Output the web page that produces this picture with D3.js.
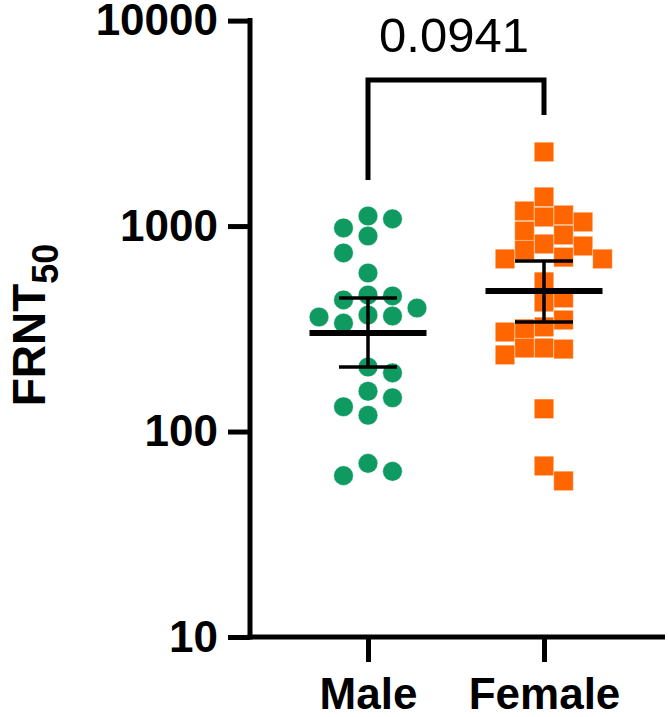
<!DOCTYPE html>
<html>
<head>
<meta charset="utf-8">
<script src="https://cdn.jsdelivr.net/npm/d3@7"></script>
<style>
  html, body { margin: 0; padding: 0; background: #fff; }
  svg { display: block; }
  text { font-family: Arial, 'Liberation Sans', sans-serif; fill: #000; }
</style>
</head>
<body>
<div id="chart"></div>
<script>
// groups on the x axis
const groups = ['Male', 'Female'];

// FRNT50 per subject
const maleValues = [1119, 1084, 979, 895, 740, 591, 462, 457, 437, 399, 369, 365, 361, 337,
  206, 193, 157, 146, 132, 120, 70, 64, 61];
const femaleValues = [2295, 1386, 1184, 1132, 1107, 1047, 946, 905, 818, 800, 764, 706, 692, 692,
  535, 447, 427, 349, 323, 316, 305, 255, 255, 252, 236, 129, 68, 57.5];

// centre line and error bar ends
const centreValues = [302, 483];
const upperValues = [447, 676];
const lowerValues = [206, 341];

const yTicks = [10, 100, 1000, 10000];
const pValueLabel = '0.0941';

const width = 668;
const height = 717;
const margin = { top: 20.6, right: 3, bottom: 80, left: 250 };

const svg = d3.select('#chart')
  .append('svg')
  .attr('width', width)
  .attr('height', height);

const y = d3.scaleLog()
  .domain([10, 10000])
  .range([height - margin.bottom, margin.top]);

const x = d3.scalePoint()
  .domain(groups)
  .range([368, 544]);

const colors = { Male: '#0f9a62', Female: '#ff6600' };

// simple beeswarm: nearest free lane to the group centre, sides alternate
function swarm(values, lanes, step, collides) {
  const placed = [];
  const sorted = values.map((v) => ({ v, y: y(v) })).sort((a, b) => a.y - b.y);
  sorted.forEach((p, i) => {
    for (const k of lanes) {
      const cands = k === 0 ? [0] : (i % 2 ? [k * step, -k * step] : [-k * step, k * step]);
      const hit = cands.find((dx) => !placed.some((q) => collides(dx - q.dx, p.y - q.y)));
      if (hit !== undefined) {
        p.dx = hit;
        break;
      }
    }
    placed.push(p);
  });
  return placed;
}

const r = 9.8;
const side = 19.5;
const malePts = swarm(maleValues, d3.range(0, 8), 24.5,
  (dx, dy) => Math.hypot(dx, dy) < 2 * r - 0.5);
const femalePts = swarm(femaleValues, d3.range(0, 8, 0.5), side,
  (dx, dy) => Math.abs(dx) < side - 0.5 && Math.abs(dy) < side - 0.5);

// y axis
const yAxis = svg.append('g')
  .attr('transform', `translate(${margin.left},0)`)
  .call(d3.axisLeft(y)
    .tickValues(yTicks)
    .tickFormat(d3.format('d'))
    .tickSize(22)
    .tickSizeOuter(0)
    .tickPadding(10));
yAxis.select('.domain')
  .attr('d', `M0,${margin.top - 2.5}V${y(10) + 2.5}`)
  .attr('stroke-width', 5);
yAxis.selectAll('.tick line').attr('stroke-width', 5);
yAxis.selectAll('.tick text')
  .attr('font-size', 44)
  .attr('font-weight', 'bold')
  .style('font-family', "Arial, 'Liberation Sans', sans-serif");

// x axis
const xAxis = svg.append('g')
  .attr('transform', `translate(0,${y(10)})`)
  .call(d3.axisBottom(x).tickSize(25).tickSizeOuter(0).tickPadding(16));
xAxis.select('.domain')
  .attr('d', `M${margin.left - 2.5},0H${width - margin.right}`)
  .attr('stroke-width', 5);
xAxis.selectAll('.tick line').attr('stroke-width', 5);
xAxis.selectAll('.tick text')
  .attr('font-size', 44)
  .attr('font-weight', 'bold')
  .style('font-family', "Arial, 'Liberation Sans', sans-serif");

// y title
const title = svg.append('text')
  .attr('transform', `translate(45,325) rotate(-90)`)
  .attr('text-anchor', 'middle')
  .attr('font-size', 46)
  .attr('font-weight', 'bold');
title.append('tspan').text('FRNT');
title.append('tspan').attr('font-size', 36).attr('dy', 13).text('50');

// points
svg.append('g')
  .selectAll('circle')
  .data(malePts)
  .join('circle')
  .attr('cx', (d) => x('Male') + d.dx)
  .attr('cy', (d) => d.y)
  .attr('r', r)
  .attr('fill', colors.Male)
  .attr('stroke', '#fff')
  .attr('stroke-opacity', 0.5)
  .attr('stroke-width', 0.8);

svg.append('g')
  .selectAll('rect')
  .data(femalePts)
  .join('rect')
  .attr('x', (d) => x('Female') + d.dx - side / 2)
  .attr('y', (d) => d.y - side / 2)
  .attr('width', side)
  .attr('height', side)
  .attr('fill', colors.Female)
  .attr('stroke', '#fff')
  .attr('stroke-opacity', 0.5)
  .attr('stroke-width', 0.8);

// centre line + error bars
const bars = svg.append('g').attr('stroke', '#000');
groups.forEach((g, i) => {
  const cx = x(g);
  bars.append('line')
    .attr('x1', cx - 58.5).attr('x2', cx + 58.5)
    .attr('y1', y(centreValues[i])).attr('y2', y(centreValues[i]))
    .attr('stroke-width', 6);
  bars.append('line')
    .attr('x1', cx).attr('x2', cx)
    .attr('y1', y(upperValues[i])).attr('y2', y(lowerValues[i]))
    .attr('stroke-width', 3.5);
  [upperValues[i], lowerValues[i]].forEach((v) => {
    bars.append('line')
      .attr('x1', cx - 29).attr('x2', cx + 29)
      .attr('y1', y(v)).attr('y2', y(v))
      .attr('stroke-width', 3.5);
  });
});

// significance bracket
const bracketY = 80;
svg.append('path')
  .attr('d', `M${x('Male')},180V${bracketY}H${x('Female')}V115`)
  .attr('fill', 'none')
  .attr('stroke', '#000')
  .attr('stroke-width', 5);

svg.append('text')
  .attr('x', (x('Male') + x('Female')) / 2 - 2)
  .attr('y', 52)
  .attr('text-anchor', 'middle')
  .attr('font-size', 49)
  .text(pValueLabel);
</script>
</body>
</html>
